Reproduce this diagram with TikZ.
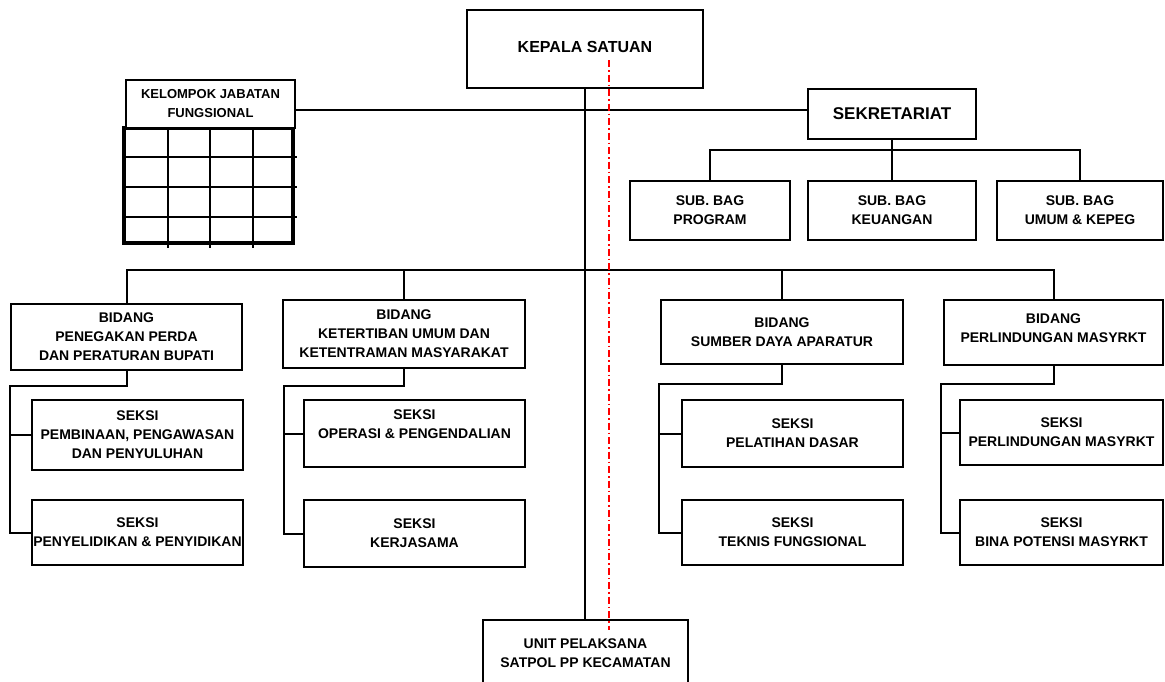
\documentclass[tikz,border=0pt]{standalone}
\usepackage{fontspec}
\setmainfont{Liberation Sans}
\usetikzlibrary{positioning,calc}
\tikzstyle{block} = [draw, fill=white, rectangle, line width=2pt, align=center, inner sep=1pt, font=\bfseries\fontsize{14}{19}\selectfont]
\tikzstyle{subbag} = [block, minimum height=59]
\tikzstyle{bidang} = [block, minimum width=242, minimum height=66]
\tikzstyle{seksi} = [block, minimum width=221, minimum height=66]

\begin{document}
\begin{tikzpicture}[x=1pt, y=-1pt, line width=2pt]
    \useasboundingbox (0,0) rectangle (1165,681);

    % pimpinan dan sekretariat
    \node [block, minimum width=236, minimum height=78, font=\bfseries\fontsize{16}{19}\selectfont] (kepala) at (585,49) {KEPALA SATUAN\\[-14pt]};
    \node [block, minimum width=168, minimum height=50, font=\bfseries\fontsize{17}{19}\selectfont] (sekr) at (892,114) {SEKRETARIAT};
    \node [subbag, minimum width=160] (subprog) at (710,210.5) {SUB. BAG\\PROGRAM};
    \node [subbag, minimum width=168] (subkeu) at (892,210.5) {SUB. BAG\\KEUANGAN};
    \node [subbag, minimum width=166] (subumum) at (1080,210.5) {SUB. BAG\\UMUM \& KEPEG};

    % kelompok jabatan fungsional
    \node [draw, line width=4pt, minimum width=169, minimum height=115] (kjgrid) at (208.5,185.5) {};
    \draw (168,128) -- (168,248);
    \draw (210,128) -- (210,248);
    \draw (253,128) -- (253,248);
    \draw (124,157) -- (297,157);
    \draw (124,187) -- (297,187);
    \draw (124,217) -- (297,217);
    \node [block, minimum width=169, minimum height=48, font=\bfseries\fontsize{13}{19}\selectfont] (kelompok) at (210.5,104) {KELOMPOK JABATAN\\FUNGSIONAL};

    % bidang
    \node [bidang, minimum width=231] (b1) at (126.5,337) {BIDANG\\PENEGAKAN PERDA\\DAN PERATURAN BUPATI};
    \node [bidang, minimum height=68] (b2) at (404,334) {BIDANG\\KETERTIBAN UMUM DAN\\KETENTRAMAN MASYARAKAT};
    \node [bidang, minimum height=64] (b3) at (782,332) {BIDANG\\SUMBER DAYA APARATUR};
    \node [bidang, minimum width=219, minimum height=65] (b4) at (1053.5,332.5) {BIDANG\\PERLINDUNGAN MASYRKT\\[-10pt]};

    % seksi
    \node [seksi, minimum width=211, minimum height=70] (s11) at (137.5,435) {SEKSI\\PEMBINAAN, PENGAWASAN\\DAN PENYULUHAN};
    \node [seksi, minimum width=211, minimum height=65] (s12) at (137.5,532.5) {SEKSI\\PENYELIDIKAN \& PENYIDIKAN};
    \node [seksi, minimum height=67] (s21) at (414.5,433.5) {SEKSI\\OPERASI \& PENGENDALIAN\\~};
    \node [seksi, minimum height=67] (s22) at (414.5,533.5) {SEKSI\\KERJASAMA};
    \node [seksi, minimum height=67] (s31) at (792.5,433.5) {SEKSI\\PELATIHAN DASAR};
    \node [seksi, minimum height=65] (s32) at (792.5,532.5) {SEKSI\\TEKNIS FUNGSIONAL};
    \node [seksi, minimum width=203, minimum height=65] (s41) at (1061.5,432.5) {SEKSI\\PERLINDUNGAN MASYRKT};
    \node [seksi, minimum width=203, minimum height=65] (s42) at (1061.5,532.5) {SEKSI\\BINA POTENSI MASYRKT};

    % unit pelaksana
    \node [block, minimum width=205, minimum height=66] (unit) at (585.5,653) {UNIT PELAKSANA\\SATPOL PP KECAMATAN};

    % garis komando
    \coordinate (jfa) at (585,110);
    \coordinate (sekbus) at (892,150);
    \coordinate (bus) at (585,270);
    \draw (kepala.south) -- (kepala.south |- unit.north);
    \draw (kelompok.east |- jfa) -- (sekr.west |- jfa);
    \draw (sekr.south) -- (subkeu.north);
    \draw (subprog.north) |- (sekbus) -| (subumum.north);
    \draw (b1.north) |- (bus) -| (b4.north);
    \draw (b2.north) -- (b2.north |- bus);
    \draw (b3.north) -- (b3.north |- bus);

    \draw (b1.south) -- ++(0,15) -| ([xshift=-21]s12.west) -- (s12.west);
    \draw ([xshift=-21]s11.west) -- (s11.west);
    \draw (b2.south) -- ++(0,17) -| ([xshift=-19]s22.west) -- (s22.west);
    \draw ([xshift=-19]s21.west) -- (s21.west);
    \draw (b3.south) -- ++(0,19) -| ([xshift=-22]s32.west) -- (s32.west);
    \draw ([xshift=-22]s31.west) -- (s31.west);
    \draw (b4.south) -- ++(0,18) -| ([xshift=-18]s42.west) -- (s42.west);
    \draw ([xshift=-18]s41.west) -- (s41.west);

    % garis koordinasi
    \coordinate (koord1) at (609,60);
    \coordinate (koord2) at (609,630);
    \draw [red, dash pattern=on 7pt off 3pt on 1.5pt off 3pt] (koord1) -- (koord2);
\end{tikzpicture}
\end{document}
